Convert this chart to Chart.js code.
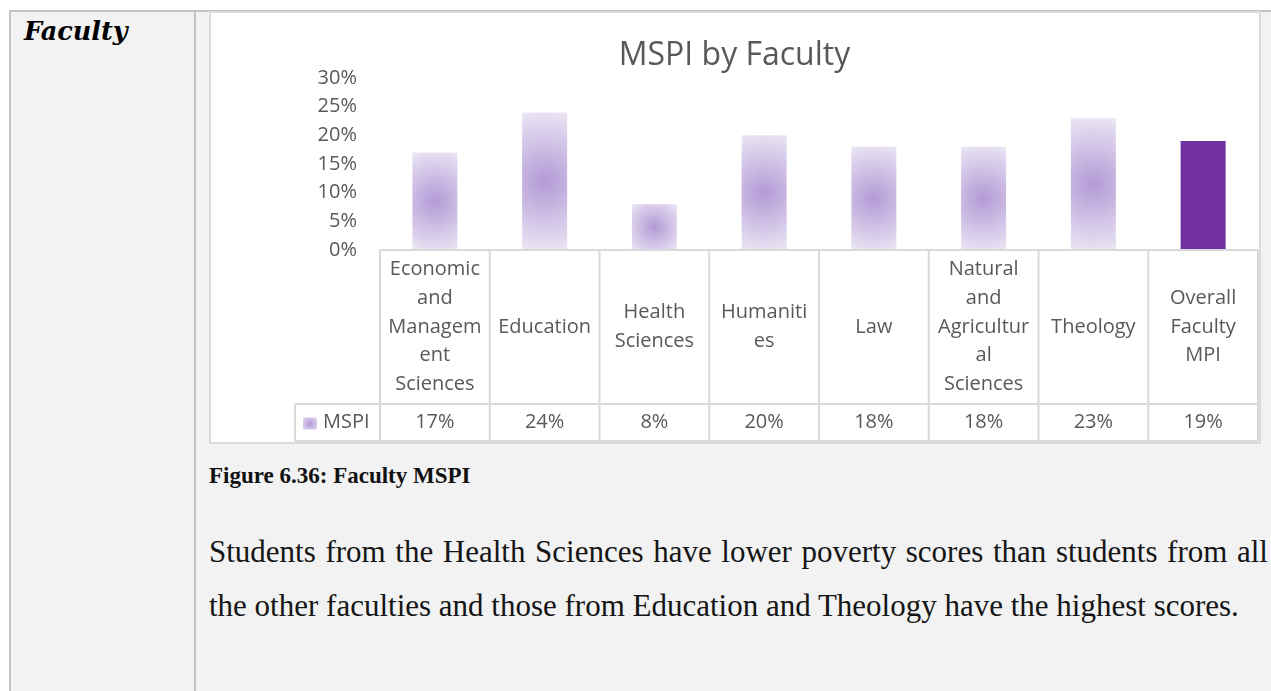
<!DOCTYPE html>
<html>
<head>
<meta charset="utf-8">
<script src="https://cdn.jsdelivr.net/npm/chart.js@4"></script>
<style>
    body { margin: 0; background: #ffffff; width: 1271px; height: 691px; overflow: hidden; position: relative; }
    #page { position: absolute; left: 9px; top: 10px; width: 1262px; height: 681px; background: #f2f2f2;
        border-left: 2px solid #c3c3c3; border-top: 2px solid #c3c3c3; box-sizing: border-box; }
    #divider { position: absolute; left: 194px; top: 12px; width: 2px; height: 679px; background: #c3c3c3; }
    #heading { position: absolute; left: 24px; top: 18px; font: italic bold 25.5px/26px "DejaVu Serif"; color: #000; }
    #chartBox { position: absolute; left: 209px; top: 11px; width: 1052px; height: 433px; background: #fff;
        border: 2px solid #dadada; box-sizing: border-box; }
    #chartBox canvas { position: absolute; left: 0; top: 0; }
    #caption { position: absolute; left: 209px; top: 464px; font: bold 23px/23px "Liberation Serif"; color: #111; }
    .para { position: absolute; left: 209px; font: 31px/54px "Liberation Serif"; color: #151515; white-space: nowrap; }
    #line1 { top: 525px; width: 1059px; text-align: justify; text-align-last: justify; white-space: normal; }
    #line2 { top: 579px; }
</style>
</head>
<body>
<div id="page"></div>
<div id="divider"></div>
<div id="heading">Faculty</div>
<div id="chartBox"><canvas id="mspiChart" width="1048" height="429"></canvas></div>
<div id="caption">Figure 6.36: Faculty MSPI</div>
<div class="para" id="line1">Students from the Health Sciences have lower poverty scores than students from all</div>
<div class="para" id="line2">the other faculties and those from Education and Theology have the highest scores.</div>
<script>
const faculties = [
    ["Economic", "and", "Managem", "ent", "Sciences"],
    ["Education"],
    ["Health", "Sciences"],
    ["Humaniti", "es"],
    ["Law"],
    ["Natural", "and", "Agricultur", "al", "Sciences"],
    ["Theology"],
    ["Overall", "Faculty", "MPI"],
];
const mspi = [17, 24, 8, 20, 18, 18, 23, 19];
const seriesName = "MSPI";
const yMin = 0;
const yMax = 30;
const yStep = 5;

const textColor = "#595959";
const lineColor = "#d9d9d9";
const overallColor = "#7030a0";
const barPct = 0.41;

function pct(v) {
    return v + "%";
}

// faculty bars get a soft radial lavender fill, the overall bar is solid
function barFill(ctx) {
    let i = ctx.dataIndex;
    if (i === mspi.length - 1) return overallColor;
    let chart = ctx.chart;
    if (!chart.chartArea || ctx.type !== "data") return "#d4c8ea";
    let xs = chart.scales.x;
    let ys = chart.scales.y;
    let cx = xs.getPixelForValue(i);
    let top = ys.getPixelForValue(mspi[i]);
    let base = ys.getPixelForValue(0);
    let w = (xs.width / faculties.length) * barPct;
    let cy = (top + base) / 2;
    let r = Math.hypot(w / 2, (base - top) / 2);
    let g = chart.ctx.createRadialGradient(cx, cy, 0, cx, cy, r);
    g.addColorStop(0, "#b39ad6");
    g.addColorStop(1, "#ebe6f4");
    return g;
}

// data table under the plot: category names, legend key and values
const dataTable = {
    id: "dataTable",
    afterDraw(chart) {
        let c = chart.ctx;
        let xs = chart.scales.x;
        let n = faculties.length;
        let cw = xs.width / n;
        let top = xs.top;
        let mid = top + 154;
        let bottom = top + 191;
        let legendLeft = 84;
        c.save();
        c.strokeStyle = lineColor;
        c.lineWidth = 2;
        c.beginPath();
        c.moveTo(xs.left, top);
        c.lineTo(xs.right, top);
        c.moveTo(legendLeft, mid);
        c.lineTo(xs.right, mid);
        c.moveTo(legendLeft, bottom);
        c.lineTo(xs.right, bottom);
        for (let i = 0; i <= n; i++) {
            let x = xs.left + i * cw;
            c.moveTo(x, top);
            c.lineTo(x, bottom);
        }
        c.moveTo(legendLeft, mid);
        c.lineTo(legendLeft, bottom);
        c.stroke();

        c.fillStyle = textColor;
        c.font = "20px 'Open Sans'";
        c.textAlign = "center";
        c.textBaseline = "middle";
        let lh = 28.7;
        let headMid = (top + mid) / 2;
        let valMid = (mid + bottom) / 2;
        for (let i = 0; i < n; i++) {
            let x = xs.getPixelForValue(i);
            let lines = faculties[i];
            let y0 = headMid - ((lines.length - 1) * lh) / 2;
            lines.forEach((s, k) => c.fillText(s, x, y0 + k * lh));
            c.fillText(pct(mspi[i]), x, valMid);
        }

        let kx = legendLeft + 8;
        let ky = valMid - 5;
        let g = c.createRadialGradient(kx + 7, ky + 6, 0, kx + 7, ky + 6, 9);
        g.addColorStop(0, "#b39ad6");
        g.addColorStop(1, "#e2daf0");
        c.fillStyle = g;
        c.fillRect(kx, ky, 14, 12);
        c.fillStyle = textColor;
        c.textAlign = "left";
        c.fillText(seriesName, legendLeft + 28, valMid);
        c.restore();
    },
};

Chart.defaults.font.family = "'Open Sans'";
Chart.defaults.color = textColor;

new Chart(document.getElementById("mspiChart"), {
    type: "bar",
    data: {
        labels: faculties,
        datasets: [
            {
                label: seriesName,
                data: mspi,
                backgroundColor: barFill,
                borderWidth: 0,
                categoryPercentage: 1,
                barPercentage: barPct,
            },
        ],
    },
    options: {
        responsive: false,
        animation: false,
        layout: { padding: { top: 0, bottom: 0, left: 0, right: 1 } },
        plugins: {
            legend: { display: false },
            tooltip: { enabled: false },
            title: {
                display: true,
                text: "MSPI by Faculty",
                color: textColor,
                font: { size: 32, weight: "normal", lineHeight: 1.2 },
                padding: { top: 24, bottom: 2.6 },
            },
        },
        scales: {
            x: {
                grid: { display: false },
                border: { display: false },
                ticks: { display: false },
                afterFit(scale) {
                    scale.height = 192;
                },
            },
            y: {
                min: yMin,
                max: yMax,
                grid: { display: false, drawTicks: false },
                border: { display: false },
                ticks: {
                    stepSize: yStep,
                    padding: 23,
                    font: { size: 20 },
                    callback: (v) => pct(v),
                },
                afterFit(scale) {
                    scale.width = 169;
                },
            },
        },
    },
    plugins: [dataTable],
});
</script>
</body>
</html>
